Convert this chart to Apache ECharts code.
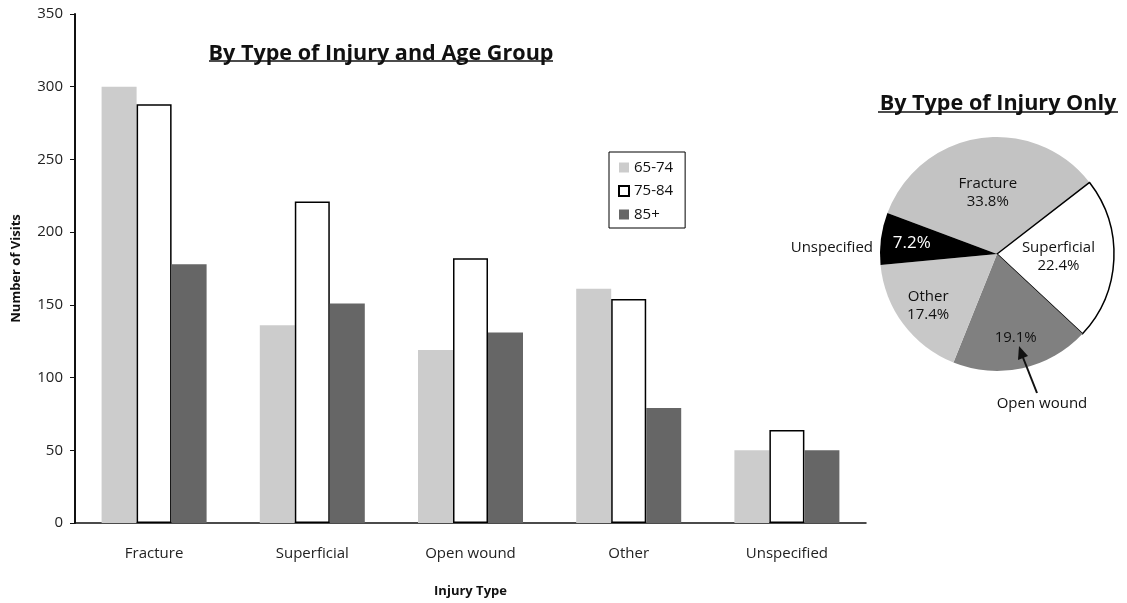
<!DOCTYPE html>
<html>
<head>
    <meta charset="utf-8">
    <title>Injury visits</title>
    <script src="https://cdn.jsdelivr.net/npm/echarts@6/dist/echarts.min.js"></script>
    <style>
        html, body { margin: 0; padding: 0; background: #fff; }
        #chart1 { width: 1127px; height: 603px; }
    </style>
</head>
<body>
<div id="chart1"></div>
<script type="text/javascript">
    // data
    var injuryTypes = ['Fracture', 'Superficial', 'Open wound', 'Other', 'Unspecified'];
    var ageGroups = ['65-74', '75-84', '85+'];
    var visits6574 = [300, 136, 119, 161, 50];
    var visits7584 = [288, 221, 182, 154, 64];
    var visits85 = [178, 151, 131, 79, 50];
    var pieShares = [33.8, 22.4, 19.1, 17.4, 7.2];
    var yTicks = [0, 350, 50]; // min, max, step

    var font = 'Open Sans';
    var pieColors = ['#c3c3c3', '#ffffff', '#808080', '#c8c8c8', '#000000'];

    // main pie: labels for Fracture and Superficial only
    var pieData = injuryTypes.map(function (name, i) {
        var item = {
            name: name,
            value: pieShares[i],
            itemStyle: { color: pieColors[i] },
            label: { show: i < 2 }
        };
        if (i == 1) {
            item.itemStyle.borderColor = '#000';
            item.itemStyle.borderWidth = 1.5;
        }
        return item;
    });
    // overlay pie (transparent) to push the smaller labels further out
    var pieOuterData = injuryTypes.map(function (name, i) {
        return {
            name: name,
            value: pieShares[i],
            label: { show: i >= 2 }
        };
    });

    var myChart1 = echarts.init(document.getElementById('chart1'));
    myChart1.setOption({
        animation: false,
        textStyle: { fontFamily: font },
        title: [
            {
                text: 'By Type of Injury and Age Group',
                left: 376, top: 38, textAlign: 'center',
                textStyle: { fontFamily: font, fontSize: 21.6, fontWeight: 'bold', color: '#111' }
            },
            {
                text: 'By Type of Injury Only',
                left: 993, top: 88, textAlign: 'center',
                textStyle: { fontFamily: font, fontSize: 21.6, fontWeight: 'bold', color: '#111' }
            }
        ],
        legend: {
            data: ageGroups,
            orient: 'vertical',
            left: 609, top: 152,
            padding: [8, 12, 6, 9],
            itemGap: 8.5,
            itemWidth: 10, itemHeight: 10,
            icon: 'rect',
            borderColor: '#000', borderWidth: 1,
            textStyle: { fontFamily: font, fontSize: 15, color: '#111' }
        },
        grid: { left: 75, right: 261, top: 14, bottom: 79 },
        xAxis: {
            type: 'category',
            data: injuryTypes,
            name: 'Injury Type',
            nameLocation: 'middle',
            nameGap: 62,
            nameTextStyle: { fontFamily: font, fontSize: 13, fontWeight: 'bold', color: '#111' },
            axisLine: { lineStyle: { color: '#111', width: 1.5 } },
            axisTick: { length: 6, lineStyle: { color: '#111' } },
            axisLabel: { fontFamily: font, fontSize: 15, color: '#222', margin: 23 }
        },
        yAxis: {
            type: 'value',
            min: yTicks[0], max: yTicks[1], interval: yTicks[2],
            name: 'Number of Visits',
            nameLocation: 'middle',
            nameGap: 52,
            nameTextStyle: { fontFamily: font, fontSize: 13, fontWeight: 'bold', color: '#111' },
            axisLine: { show: true, lineStyle: { color: '#111', width: 2 } },
            axisTick: { show: true, length: 5, lineStyle: { color: '#111' } },
            axisLabel: { fontFamily: font, fontSize: 15, color: '#222', margin: 12 },
            splitLine: { show: false }
        },
        series: [
            {
                name: ageGroups[0], type: 'bar', data: visits6574,
                barWidth: 35, barGap: '0%',
                itemStyle: { color: '#cccccc' }
            },
            {
                name: ageGroups[1], type: 'bar', data: visits7584,
                barWidth: 35, barGap: '0%',
                itemStyle: { color: '#ffffff', borderColor: '#000', borderWidth: 1.5 }
            },
            {
                name: ageGroups[2], type: 'bar', data: visits85,
                barWidth: 35, barGap: '0%',
                itemStyle: { color: '#666666' }
            },
            {
                name: 'By Type of Injury Only',
                type: 'pie',
                center: [997, 254],
                radius: 117,
                startAngle: 159.5,
                clockwise: true,
                silent: true,
                data: pieData,
                label: {
                    position: 'inside',
                    fontFamily: font, fontSize: 15, color: '#111', lineHeight: 18,
                    formatter: function (p) { return p.name + '\n' + p.value.toFixed(1) + '%'; }
                },
                labelLine: { show: false }
            },
            {
                name: 'labels',
                type: 'pie',
                center: [997, 254],
                radius: 166,
                startAngle: 159.5,
                clockwise: true,
                silent: true,
                z: 3,
                itemStyle: { color: 'rgba(0,0,0,0)' },
                data: pieOuterData,
                label: {
                    position: 'inside',
                    fontFamily: font, fontSize: 15, color: '#111', lineHeight: 18,
                    formatter: function (p) {
                        if (p.name == 'Other') return p.name + '\n' + p.value.toFixed(1) + '%';
                        if (p.name == 'Unspecified') return '{w|' + p.value.toFixed(1) + '%}';
                        return p.value.toFixed(1) + '%';
                    },
                    rich: { w: { color: '#fff', fontSize: 17, fontFamily: font } }
                },
                labelLine: { show: false }
            }
        ],
        graphic: [
            // title underlines
            { type: 'line', z: 100, shape: { x1: 209, y1: 61, x2: 553, y2: 61 }, style: { stroke: '#111', lineWidth: 1.5 } },
            { type: 'line', z: 100, shape: { x1: 878, y1: 112, x2: 1118, y2: 112 }, style: { stroke: '#111', lineWidth: 1.5 } },
            // callouts on the pie
            { type: 'text', z: 100, x: 873, y: 248, style: { text: 'Unspecified', fontFamily: font, fontSize: 15, fill: '#111', align: 'right', verticalAlign: 'middle' } },
            { type: 'text', z: 100, x: 1042, y: 404, style: { text: 'Open wound', fontFamily: font, fontSize: 15, fill: '#111', align: 'center', verticalAlign: 'middle' } },
            { type: 'line', z: 100, shape: { x1: 1037, y1: 393, x2: 1022, y2: 355 }, style: { stroke: '#111', lineWidth: 2 } },
            { type: 'polygon', z: 100, shape: { points: [[1019, 346], [1028, 356], [1018, 360]] }, style: { fill: '#111' } }
        ]
    });
</script>
</body>
</html>
